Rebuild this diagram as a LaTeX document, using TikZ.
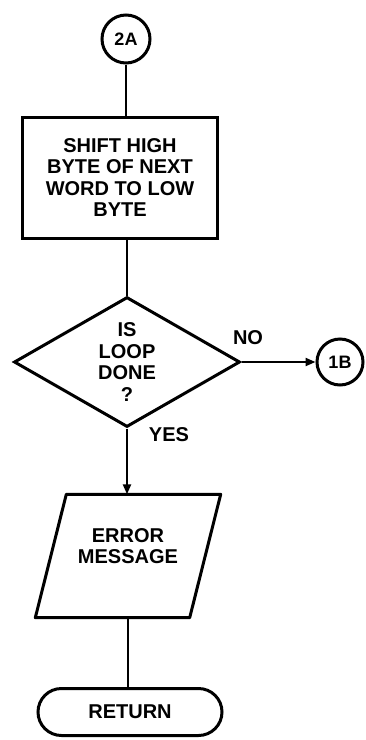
\documentclass[tikz,border=0pt]{standalone}
\usepackage{fontspec}
\setmainfont{Liberation Sans}
\usetikzlibrary{shapes.geometric,shapes.misc,arrows.meta}
\begin{document}
\begin{tikzpicture}[x=1pt,y=-1pt,
  lbl/.style={font=\fontsize{20}{21.5}\selectfont\bfseries, align=center},
  small/.style={font=\fontsize{18}{20}\selectfont\bfseries},
  shp/.style={draw, line width=3pt, lbl, inner sep=0pt},
  conn/.style={line width=2.2pt},
  arr/.style={conn, -{Triangle[length=10pt,width=8pt]}}]
\useasboundingbox (0,0) rectangle (365,740);
\node[shp, circle, minimum size=48pt, small] (c2a) at (126,39) {2A};
\node[shp, rectangle, minimum width=195pt, minimum height=121pt] (proc) at (120,177.5)
  {SHIFT HIGH\\BYTE OF NEXT\\WORD TO LOW\\BYTE};
\node[shp, diamond, aspect=1.75, minimum width=226pt, minimum height=130pt] (dec) at (127,362)
  {IS\\LOOP\\DONE\\?};
\node[shp, circle, minimum size=46pt, small] (c1b) at (340,362) {1B};
\node[lbl, inner sep=0pt, minimum width=154pt, minimum height=123pt] (msg) at (128,556)
  {ERROR\\MESSAGE\\[-2pt]\mbox{}};
\draw[line width=3pt, line join=round]
  ([xshift=15.5pt]msg.north west) -- ([xshift=15.5pt]msg.north east)
  -- ([xshift=-15.5pt]msg.south east) -- ([xshift=-15.5pt]msg.south west) -- cycle;
\node[shp, rounded rectangle, minimum width=184pt, minimum height=47pt] (ret) at (130,712) {RETURN};
\node[lbl] (no) at (248,338) {NO};
\node[lbl] (yes) at (169,435) {YES};
\draw[conn] (c2a.south) -- (c2a.south |- proc.north);
\draw[conn] (dec.north |- proc.south) -- (dec.north);
\draw[arr] (dec.east) -- (c1b.west);
\draw[arr] (dec.south) -- (dec.south |- msg.north);
\draw[conn] (msg.south) -- (msg.south |- ret.north);
\end{tikzpicture}
\end{document}
